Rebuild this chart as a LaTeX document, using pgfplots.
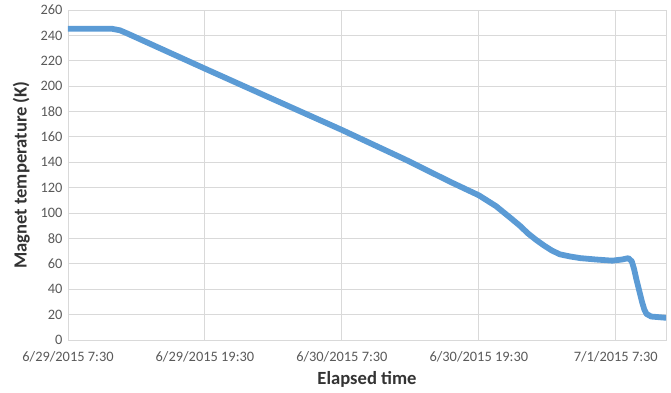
\documentclass[border=0pt]{standalone}
\usepackage{pgfplots}
\pgfplotsset{compat=1.18}
\usepackage{fontspec}
\setmainfont{Carlito}
\definecolor{serie}{HTML}{5B9BD5}
\definecolor{gridc}{HTML}{D9D9D9}
\definecolor{tickc}{HTML}{595959}
\begin{document}
\begin{tikzpicture}[x=1pt,y=1pt]
\useasboundingbox (-68,-52) rectangle (603,340);
\begin{axis}[
  scale only axis, width=598pt, height=330pt,
  xmin=0, xmax=52.4, ymin=0, ymax=260,
  ytick={0,20,...,260},
  xtick={0,12,24,36,48},
  xticklabels={6/29/2015 7:30, 6/29/2015 19:30, 6/30/2015 7:30, 6/30/2015 19:30, 7/1/2015 7:30},
  grid=major,
  major grid style={draw=gridc, line width=0.9pt},
  axis line style={draw=gridc, line width=0.9pt},
  tick style={draw=none},
  ticklabel style={font=\fontsize{14.4}{14.4}\selectfont, text=tickc},
  /pgf/number format/assume math mode=true,
  xticklabel style={yshift=-8pt},
  yticklabel style={xshift=-2pt},
  xlabel={Elapsed time},
  ylabel={Magnet temperature (K)},
  label style={font=\bfseries\fontsize{18.6}{18.6}\selectfont, text=black!80},
  xlabel style={yshift=-2pt},
  ylabel style={yshift=4pt},
]
\addplot[serie, line width=5.8pt, line join=round, line cap=round] coordinates {
(0,245.3) (3.8,245.3) (4.55,244) (5.2,241.5) (12,213.8)
(18,189.6) (24.0,165.5) (29.6,142) (33.5,124.6) (36.0,114) (37.5,105.5) (38.8,96)
(39.6,90) (40.3,84) (41.0,79) (41.7,74.5) (42.4,70.5) (43.1,67.5) (44.0,65.8)
(44.9,64.5) (46.3,63.4) (47.7,62.5) (48.6,63.5) (49.1,64.5) (49.4,62) (49.6,56)
(49.8,48) (50.05,39) (50.3,30) (50.5,24) (50.7,20.5) (51.1,18.5) (52.4,17.5)
};
\end{axis}
\end{tikzpicture}
\end{document}
